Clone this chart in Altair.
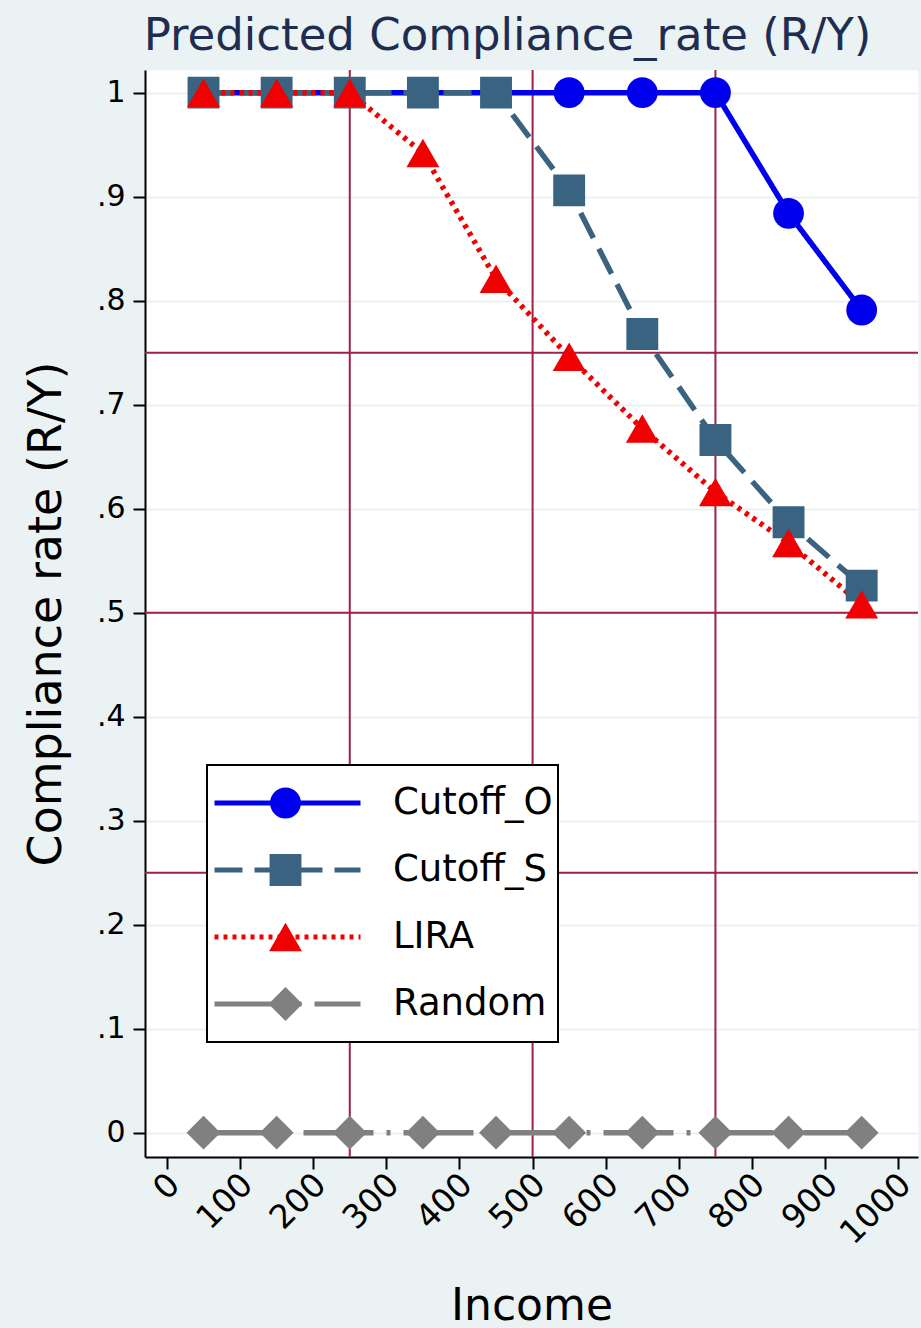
import altair as alt
import pandas as pd

# ---- data ----
income = [50, 150, 250, 350, 450, 550, 650, 750, 850, 950]
cutoff_o = [1, 1, 1, 1, 1, 1, 1, 1, 0.884, 0.791]
cutoff_s = [1, 1, 1, 1, 1, 0.906, 0.768, 0.666, 0.587, 0.526]
lira = [1, 1, 1, 0.942, 0.821, 0.746, 0.677, 0.616, 0.567, 0.508]
random_ = [0, 0, 0, 0, 0, 0, 0, 0, 0, 0]

series_names = ["Cutoff_O", "Cutoff_S", "LIRA", "Random"]
series_colors = ["#0000EE", "#3A6382", "#F00000", "#808080"]
series_dash = [[1, 0], [28, 12], [4, 5], [70, 13, 4, 13]]
series_shapes = ["circle", "square", "triangle-up", "diamond"]
series_sizes = [420, 650, 950, 1150]

ref_x = [250, 500, 750]
ref_y = [0.25, 0.5, 0.75]
x_ticks = [0, 100, 200, 300, 400, 500, 600, 700, 800, 900, 1000]
y_ticks = [0, 0.1, 0.2, 0.3, 0.4, 0.5, 0.6, 0.7, 0.8, 0.9, 1]

FONT = "DejaVu Sans"
BG = "#EAF2F3"
REF = "#9E2148"

rows = []
for name, vals in zip(series_names, [cutoff_o, cutoff_s, lira, random_]):
    for x, y in zip(income, vals):
        rows.append({"income": x, "rate": y, "series": name, "marker": name})
df = pd.DataFrame(rows)

xscale = alt.Scale(domain=[-30, 1027], nice=False, zero=False)
yscale = alt.Scale(domain=[-0.0234, 1.0218], nice=False, zero=False)

x_axis = alt.Axis(
    values=x_ticks, format="d", title="Income", labelAngle=315, labelAlign="right",
    labelBaseline="middle", labelFontSize=33, labelFont=FONT, labelColor="black",
    labelPadding=10, labelOffset=7, labelOverlap=False, labelFlush=False,
    titleFontSize=44, titleFont=FONT, titleFontWeight="normal",
    titleColor="black", titleY=162, titleBaseline="alphabetic",
    tickSize=12, tickWidth=2, tickColor="black",
    domainColor="black", domainWidth=2, grid=False,
)
y_axis = alt.Axis(
    values=y_ticks, title="Compliance rate (R/Y)",
    labelExpr="datum.value == 0 ? '0' : datum.value >= 1 ? '1' : replace(format(datum.value, '.1f'), '0.', '.')",
    labelFontSize=30, labelFont=FONT, labelColor="black", labelPadding=8,
    titleFontSize=46, titleFont=FONT, titleFontWeight="normal", titleColor="black",
    titlePadding=26, tickSize=12, tickWidth=2, tickColor="black",
    domainColor="black", domainWidth=2, grid=True, gridColor="#E8EEEF", gridWidth=1.5,
)

legend_a = alt.Legend(
    orient="none", legendX=62, legendY=695, title=None, symbolType="stroke",
    symbolSize=21316, symbolStrokeWidth=5, clipHeight=66, rowPadding=1, padding=5,
    labelFontSize=37, labelFont=FONT, labelColor="black", labelOffset=30,
    fillColor="white", strokeColor="black", zindex=1,
)
legend_b = alt.Legend(
    orient="none", legendX=117, legendY=695, title=None, clipHeight=66, rowPadding=1,
    padding=5, labelExpr="''", labelFontSize=37, labelOffset=30,
    symbolStrokeWidth=0, symbolOpacity=1, zindex=2, values=series_names,
)

# reversed domain for the marker scales so that the two legends are kept apart
m_domain = series_names[::-1]

vref = alt.Chart(pd.DataFrame({"income": ref_x})).mark_rule(color=REF, strokeWidth=2).encode(
    x=alt.X("income:Q", scale=xscale, axis=x_axis)
)
href = alt.Chart(pd.DataFrame({"rate": ref_y})).mark_rule(color=REF, strokeWidth=2).encode(
    y=alt.Y("rate:Q", scale=yscale, axis=y_axis)
)

lines = alt.Chart(df).mark_line(strokeWidth=5.5).encode(
    x=alt.X("income:Q", scale=xscale, axis=x_axis),
    y=alt.Y("rate:Q", scale=yscale, axis=y_axis),
    color=alt.Color("series:N", scale=alt.Scale(domain=series_names, range=series_colors), legend=legend_a),
    strokeDash=alt.StrokeDash("series:N", scale=alt.Scale(domain=series_names, range=series_dash), legend=legend_a),
)

points = alt.Chart(df).mark_point(filled=True, opacity=1, strokeWidth=0).encode(
    x=alt.X("income:Q", scale=xscale, axis=x_axis),
    y=alt.Y("rate:Q", scale=yscale, axis=y_axis),
    shape=alt.Shape("marker:N", scale=alt.Scale(domain=m_domain, range=series_shapes[::-1]), legend=legend_b),
    fill=alt.Fill("marker:N", scale=alt.Scale(domain=m_domain, range=series_colors[::-1]), legend=legend_b),
    size=alt.Size("marker:N", scale=alt.Scale(domain=m_domain, range=series_sizes[::-1]), legend=legend_b),
)

chart = alt.layer(vref, href, lines, points).properties(
    width=773,
    height=1087,
    padding={"left": 145, "top": 70, "right": 3, "bottom": 171},
    autosize=alt.AutoSizeParams(type="none"),
    title=alt.TitleParams(
        "Predicted Compliance_rate (R/Y)", fontSize=45, font=FONT, fontWeight="normal",
        color="#1E2D50", dx=-24, offset=10,
    ),
).configure(background=BG).configure_view(fill="white", stroke="transparent").configure_legend(strokeWidth=2)

chart.save("out.html", embed_options={"renderer": "svg", "actions": False})
